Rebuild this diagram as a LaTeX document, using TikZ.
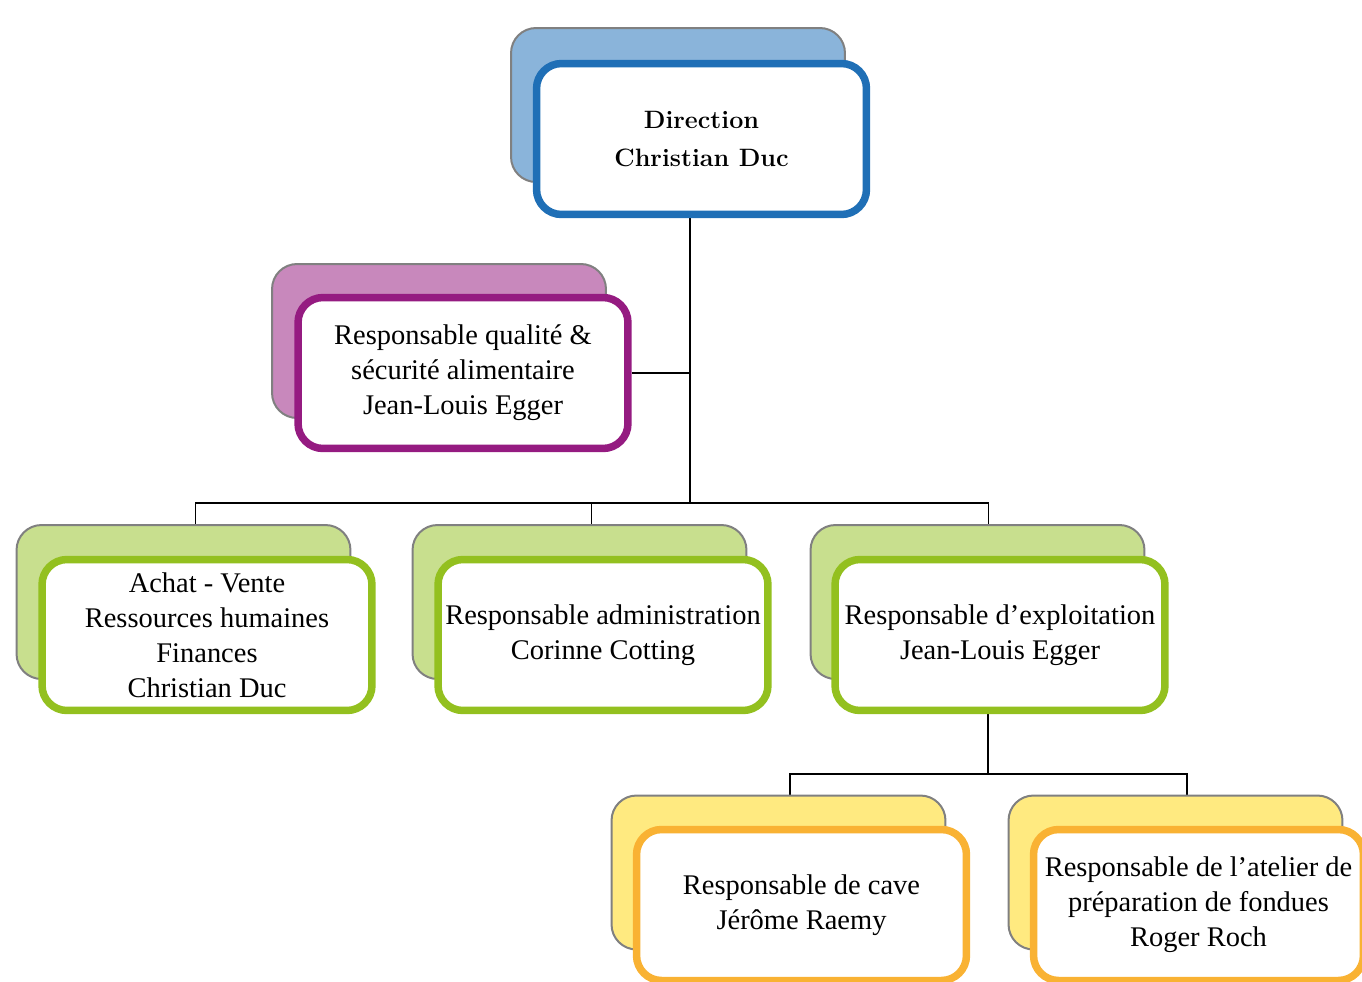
\documentclass[tikz,border=0pt]{standalone}
\usepackage{fontspec}
\setmainfont{Liberation Serif}
\newfontfamily\didone{Latin Modern Roman}
\usetikzlibrary{calc,backgrounds}
\definecolor{cBlue}{HTML}{1F6FB6}
\definecolor{cBlueL}{HTML}{8AB4DA}
\definecolor{cPurp}{HTML}{951B81}
\definecolor{cPurpL}{HTML}{C888BC}
\definecolor{cGreen}{HTML}{93C01F}
\definecolor{cGreenL}{HTML}{C8DF8E}
\definecolor{cOrange}{HTML}{F9B233}
\definecolor{cYellowL}{HTML}{FFEA80}
\definecolor{cGray}{HTML}{808080}
\tikzset{
  backbox/.style={draw=cGray, line width=0.04cm, rounded corners=0.5cm,
    minimum width=6.68cm, minimum height=3.08cm, inner sep=0pt},
  frontbox/.style={draw=#1, fill=white, line width=0.15cm, rounded corners=0.5cm,
    minimum width=6.6cm, minimum height=3.02cm, inner sep=0pt, align=center,
    font=\fontsize{16.2}{19.9}\selectfont},
  conn/.style={draw=black, line width=0.6pt}
}
\begin{document}
\begin{tikzpicture}[x=0.02cm,y=-0.02cm]
\useasboundingbox (0,0) rectangle (1362,981);
\clip (0,0) rectangle (1362,981);
% Direction
\node[backbox, fill=cBlueL] (dirB) at (678,105) {};
\node[frontbox=cBlue, font=\didone\bfseries\fontsize{14.3}{21.6}\selectfont] (dirF) at (701.5,139) {Direction\\Christian Duc};
% Qualite
\node[backbox, fill=cPurpL] (qualB) at (439,341) {};
\node[frontbox=cPurp] (qualF) at (463,373) {Responsable qualité \&\\sécurité alimentaire\\Jean-Louis Egger};
% Achat
\node[backbox, fill=cGreenL] (achB) at (183.5,602) {};
\node[frontbox=cGreen] (achF) at (207,635) {Achat - Vente\\Ressources humaines\\Finances\\Christian Duc};
% Admin
\node[backbox, fill=cGreenL] (admB) at (579.5,602) {};
\node[frontbox=cGreen] (admF) at (603,635) {Responsable administration\\Corinne Cotting};
% Exploitation
\node[backbox, fill=cGreenL] (expB) at (977.5,602) {};
\node[frontbox=cGreen] (expF) at (1000,635) {Responsable d’exploitation\\Jean-Louis Egger};
% Cave
\node[backbox, fill=cYellowL] (cavB) at (778.5,872.5) {};
\node[frontbox=cOrange] (cavF) at (801.5,905) {Responsable de cave\\Jérôme Raemy};
% Fondues
\node[backbox, fill=cYellowL] (fonB) at (1175.5,872.5) {};
\node[frontbox=cOrange] (fonF) at (1198.5,905) {Responsable de l’atelier de\\préparation de fondues\\Roger Roch};
% connectors
\coordinate (j1) at (690,503);
\coordinate (j2) at (988,774);
\begin{pgfonlayer}{background}
\coordinate (achM) at ($(achB.north)!0.5!(achF.north)$);
\coordinate (admM) at ($(admB.north)!0.5!(admF.north)$);
\coordinate (expM) at ($(expB.north)!0.5!(expF.north)$);
\coordinate (cavM) at ($(cavB.north)!0.5!(cavF.north)$);
\coordinate (fonM) at ($(fonB.north)!0.5!(fonF.north)$);
\draw[conn] (dirF.south -| j1) -- (j1);
\draw[conn] (qualF.east) -- (qualF.east -| j1);
\draw[conn] (j1) -| (achM);
\draw[conn] (j1) -| (admM);
\draw[conn] (j1) -| (expM);
\draw[conn] (expF.south -| j2) -- (j2);
\draw[conn] (j2) -| (cavM);
\draw[conn] (j2) -| (fonM);
\end{pgfonlayer}
\end{tikzpicture}
\end{document}
